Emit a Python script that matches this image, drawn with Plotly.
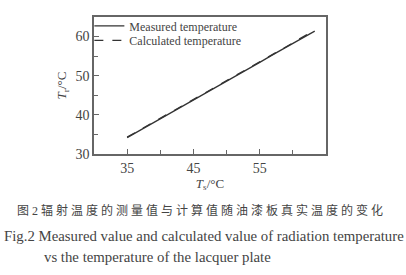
import plotly.graph_objects as go

ts = [35, 37, 39, 41, 43, 45, 47, 49, 51, 53, 55, 57, 59, 61, 63.3]
measured = [34.2, 36.1, 38.1, 40.0, 41.9, 43.8, 45.8, 47.7, 49.6, 51.5, 53.4, 55.4, 57.3, 59.2, 61.4]
calculated = [34.3, 36.3, 38.2, 40.1, 42.0, 43.9, 45.9, 47.8, 49.7, 51.6, 53.6, 55.5, 57.4, 59.4, 61.6]
x_ticks = [35, 45, 55]
y_ticks = [30, 40, 50, 60]

caption_cn = "图 2 辐 射 温 度 的 测 量 值 与 计 算 值 随 油 漆 板 真 实 温 度 的 变 化"
caption_en1 = "Fig.2 Measured value and calculated value of radiation temperature"
caption_en2 = "vs the temperature of the lacquer plate"

serif = "Liberation Serif, Times New Roman, serif"
fg = "#444444"

fig = go.Figure()
fig.add_trace(go.Scatter(x=ts, y=measured, mode="lines", name="Measured temperature",
                         line=dict(color="#333333", width=1.3), legend="legend"))
fig.add_trace(go.Scatter(x=ts, y=calculated, mode="lines", name="Calculated temperature",
                         line=dict(color="#333333", width=1.3, dash="dash"), legend="legend2"))

axis_common = dict(showgrid=False, zeroline=False, showline=True, mirror=True,
                   linecolor="#666666", linewidth=1.5, ticks="inside", ticklen=5,
                   tickcolor="#666666", tickfont=dict(family=serif, size=14, color=fg),
                   minor=dict(ticks="inside", ticklen=4, tickcolor="#666666"))

fig.update_xaxes(range=[30, 65], tickvals=x_ticks, minor_dtick=5, minor_tick0=30,
                 title=dict(text="<i>T</i><sub>s</sub>/°C", font=dict(family=serif, size=13, color=fg), standoff=0),
                 **axis_common)
fig.update_yaxes(range=[30, 65], tickvals=y_ticks, minor_dtick=5, minor_tick0=30,
                 title=dict(text="<i>T</i><sub>r</sub>/°C", font=dict(family=serif, size=13, color=fg), standoff=6),
                 **axis_common)

leg_common = dict(xanchor="left", yanchor="middle", bgcolor="rgba(0,0,0,0)",
                  font=dict(family=serif, size=12, color=fg), itemwidth=30)

fig.update_layout(
    width=406, height=275,
    margin=dict(l=94, r=80, t=11, b=121),
    paper_bgcolor="white", plot_bgcolor="white",
    showlegend=True,
    legend=dict(x=-0.02, y=0.935, **leg_common),
    legend2=dict(x=-0.02, y=0.83, **leg_common),
    annotations=[
        dict(text=caption_cn, xref="paper", yref="paper", x=0.457, y=-0.41, showarrow=False,
             xanchor="center", yanchor="middle",
             font=dict(family="Liberation Serif, Noto Sans CJK SC", size=12, color=fg)),
        dict(text=caption_en1, xref="paper", yref="paper", x=0.472, y=-0.60, showarrow=False,
             xanchor="center", yanchor="middle", font=dict(family=serif, size=14.8, color=fg)),
        dict(text=caption_en2, xref="paper", yref="paper", x=-0.224, y=-0.755, showarrow=False,
             xanchor="left", yanchor="middle", font=dict(family=serif, size=14.8, color=fg)),
    ],
)

fig.write_html("out.html")
